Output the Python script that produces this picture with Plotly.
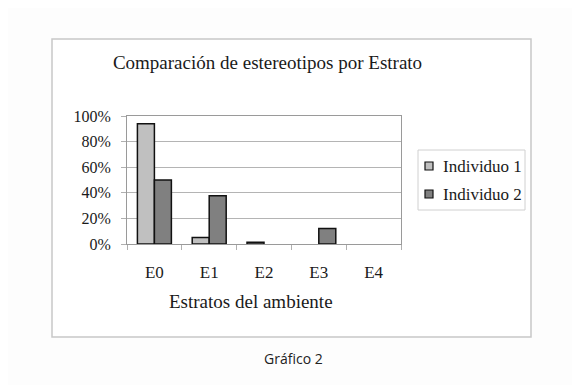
import plotly.graph_objects as go

categories = ["E0", "E1", "E2", "E3", "E4"]
series_names = ["Individuo 1", "Individuo 2"]
individuo1 = [0.94, 0.05, 0.013, 0.0, 0.0]
individuo2 = [0.50, 0.377, 0.0, 0.122, 0.0]
y_ticks = [0, 0.2, 0.4, 0.6, 0.8, 1.0]
y_tick_labels = ["0%", "20%", "40%", "60%", "80%", "100%"]
series_colors = ["#c0c0c0", "#808080"]

SERIF = "Liberation Serif, Times New Roman, serif"
OFF = 8  # page body margin offset

# plot area in target pixel coordinates
PL, PR, PT, PB = 127, 401, 116, 244
PW, PH = PR - PL, PB - PT


def px(x):
    return (x - PL) / PW


def py(y):
    return (PB - y) / PH


fig = go.Figure()
for name, vals, col in zip(series_names, [individuo1, individuo2], series_colors):
    fig.add_trace(go.Bar(x=categories, y=[v if v > 0 else None for v in vals], name=name,
                         marker=dict(color=col, line=dict(color="#111111", width=1.5)),
                         showlegend=False))

W, H = 580 - OFF, 385 - OFF
fig.update_layout(
    width=W, height=H,
    margin=dict(l=PL - OFF, r=W - (PR - OFF), t=PT - OFF, b=H - (PB - OFF), pad=0),
    paper_bgcolor="#fdfdfd",
    plot_bgcolor="#d3d3d3",
    barmode="group",
    bargap=0.38,
    bargroupgap=0,
    font=dict(family=SERIF, size=16, color="#1a1a1a"),
    title=dict(text="Comparación de estereotipos por Estrato",
               x=(267.5 - OFF) / W, xanchor="center", xref="container",
               y=1 - (62 - OFF) / H, yanchor="middle", yref="container",
               font=dict(family=SERIF, size=19, color="#1a1a1a")),
    showlegend=False,
)

fig.update_xaxes(
    type="category",
    showline=True, linecolor="#9a9a9a", linewidth=1, mirror=True,
    ticks="outside", tickson="boundaries", ticklen=5, tickcolor="#b0b0b0",
    ticklabelstandoff=13,
    tickfont=dict(family=SERIF, size=17, color="#1a1a1a"),
    showgrid=False,
)
fig.update_yaxes(
    range=[0, 1.0],
    tickvals=y_ticks, ticktext=y_tick_labels,
    showline=True, linecolor="#9a9a9a", linewidth=1, mirror=True,
    ticks="outside", ticklen=5, tickcolor="#b0b0b0",
    ticklabelstandoff=7,
    showgrid=True, gridcolor="#b4b4b4", gridwidth=1,
    zeroline=False,
    tickfont=dict(family=SERIF, size=16, color="#1a1a1a"),
)

# outer chart frame
fig.add_shape(type="rect", xref="paper", yref="paper",
              x0=px(52), x1=px(531), y0=py(337), y1=py(39),
              line=dict(color="#c8c8c8", width=1.5), fillcolor="#ffffff",
              layer="below")

# legend box
fig.add_shape(type="rect", xref="paper", yref="paper",
              x0=px(418), x1=px(525), y0=py(210), y1=py(150),
              line=dict(color="#d0d0d0", width=1), fillcolor="#ffffff")
for i, (name, col) in enumerate(zip(series_names, series_colors)):
    cy = 166 + i * 28
    fig.add_shape(type="rect", xref="paper", yref="paper",
                  x0=px(425), x1=px(433), y0=py(cy + 4), y1=py(cy - 4),
                  line=dict(color="#111111", width=1.2), fillcolor=col)
    fig.add_annotation(text=name, xref="paper", yref="paper",
                       x=px(441), y=py(cy), xanchor="left", yanchor="middle",
                       showarrow=False,
                       font=dict(family=SERIF, size=17, color="#1a1a1a"))

fig.add_annotation(text="Estratos del ambiente", xref="paper", yref="paper",
                   x=px(251), y=py(301),
                   xanchor="center", yanchor="middle", showarrow=False,
                   font=dict(family=SERIF, size=19, color="#1a1a1a"))

fig.add_annotation(text="Gráfico 2", xref="paper", yref="paper",
                   x=px(293), y=py(358),
                   xanchor="center", yanchor="middle", showarrow=False,
                   font=dict(family="Open Sans, Noto Sans, sans-serif", size=14, color="#222222"))

fig.write_html("out.html")
